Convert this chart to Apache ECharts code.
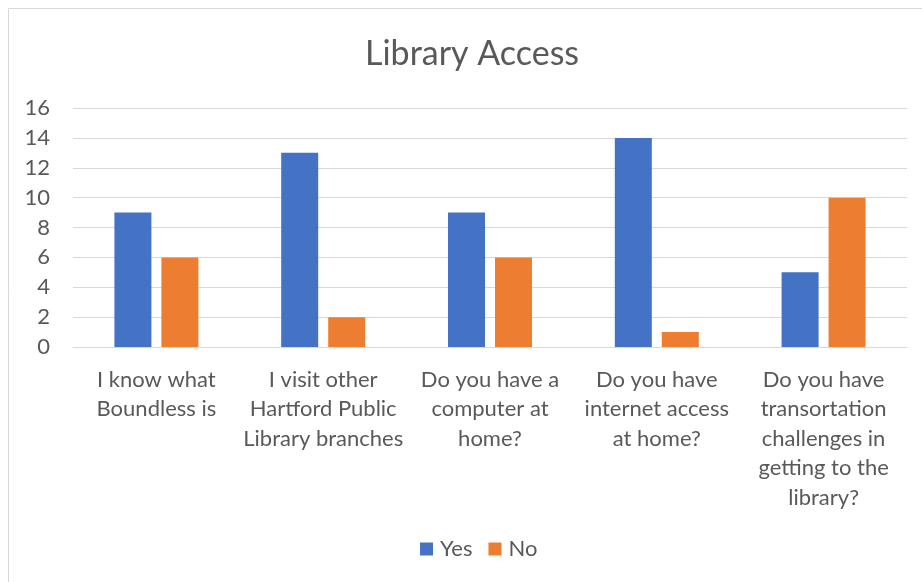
<!DOCTYPE html>
<html>
<head>
<meta charset="utf-8">
<title>Library Access</title>
<script src="https://cdn.jsdelivr.net/npm/echarts@6/dist/echarts.min.js"></script>
<style>
  html, body { margin: 0; padding: 0; background: #ffffff; }
  #chart { width: 922px; height: 582px; }
</style>
</head>
<body>
<div id="chart"></div>
<script>
// Survey questions (category axis) with their line breaks
var categories = [
  "I know what\nBoundless is",
  "I visit other\nHartford Public\nLibrary branches",
  "Do you have a\ncomputer at\nhome?",
  "Do you have\ninternet access\nat home?",
  "Do you have\ntransortation\nchallenges in\ngetting to the\nlibrary?"
];
var yesCounts = [9, 13, 9, 14, 5];
var noCounts = [6, 2, 6, 1, 10];
var seriesNames = ["Yes", "No"];
var yTicks = { min: 0, max: 16, interval: 2 };

var textColor = "#595959";
var gridColor = "#d9d9d9";
var fontFamily = "Lato, 'Open Sans', sans-serif";

var chart = echarts.init(document.getElementById("chart"), null, { renderer: "canvas" });

chart.setOption({
  backgroundColor: "#ffffff",
  animation: false,
  textStyle: { fontFamily: fontFamily, color: textColor },
  graphic: [{
    type: "rect",
    shape: { x: 8.5, y: 8.5, width: 1200, height: 1200 },
    style: { fill: "none", stroke: gridColor, lineWidth: 1 },
    silent: true,
    z: -10
  }],
  title: {
    text: "Library Access",
    left: 365,
    top: 33,
    padding: 0,
    textStyle: { fontFamily: fontFamily, fontSize: 34, fontWeight: "normal", color: textColor, lineHeight: 42 }
  },
  legend: {
    data: seriesNames,
    bottom: 17,
    left: 415,
    itemWidth: 13,
    itemHeight: 13,
    itemGap: 16,
    icon: "rect",
    textStyle: { fontFamily: fontFamily, fontSize: 22, color: textColor, padding: [0, 0, 0, 2] }
  },
  grid: { left: 73, right: 15, top: 108, bottom: 235, containLabel: false },
  xAxis: {
    type: "category",
    data: categories,
    axisLine: { show: true, lineStyle: { color: gridColor, width: 1 } },
    axisTick: { show: false },
    axisLabel: {
      interval: 0,
      margin: 18,
      color: textColor,
      fontFamily: fontFamily,
      fontSize: 22,
      lineHeight: 29.5,
      align: "center"
    }
  },
  yAxis: {
    type: "value",
    min: yTicks.min,
    max: yTicks.max,
    interval: yTicks.interval,
    axisLine: { show: false },
    axisTick: { show: false },
    splitLine: { lineStyle: { color: gridColor, width: 1 } },
    axisLabel: { margin: 23, color: textColor, fontFamily: fontFamily, fontSize: 22 }
  },
  series: [
    {
      name: seriesNames[0],
      type: "bar",
      data: yesCounts,
      barWidth: 37,
      barGap: "27%",
      itemStyle: { color: "#4472c4" }
    },
    {
      name: seriesNames[1],
      type: "bar",
      data: noCounts,
      barWidth: 37,
      barGap: "27%",
      itemStyle: { color: "#ed7d31" }
    }
  ]
});
</script>
</body>
</html>
